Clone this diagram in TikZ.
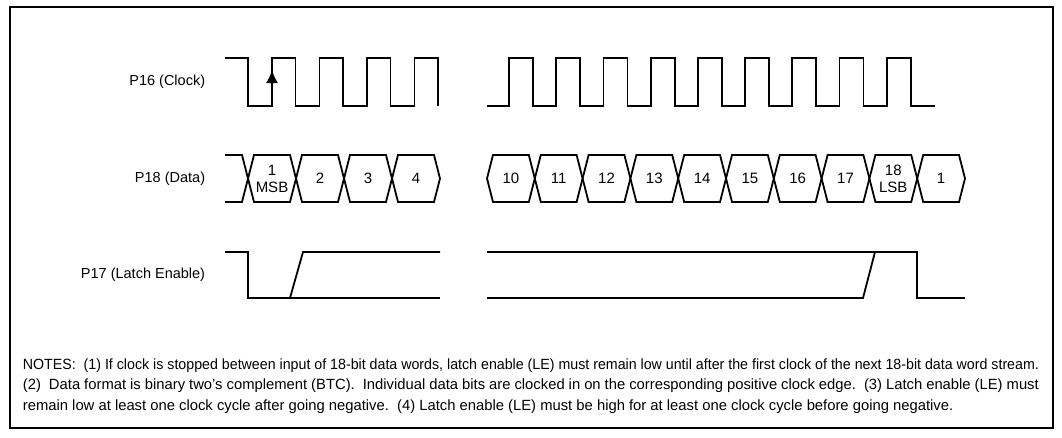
\documentclass[tikz,border=0pt]{standalone}
\usepackage{fontspec}
\setmainfont{Liberation Sans}
\usetikzlibrary{arrows.meta}

\begin{document}
\begin{tikzpicture}[x=1pt, y=-1pt, line width=1.8pt,
    lbl/.style={font=\fontsize{14.5}{17}\selectfont, anchor=east, inner sep=0pt},
    bit/.style={font=\fontsize{15}{17}\selectfont, align=center, inner sep=0pt},
    note/.style={font=\fontsize{14.8}{20}\selectfont, anchor=base west, inner sep=0pt}]

\useasboundingbox (0,0) rectangle (1062,437);

\def\hi{58} \def\lo{106} % clock levels
\def\dtop{155} \def\dbot{202} \def\dmid{178.5} % data levels
\def\lehi{252} \def\lelo{298} % latch enable levels
\def\cper{47.5} % clock period (left)
\def\rcper{47.2} % clock period (right)
\def\dper{48} % data width (left)
\def\rper{47.8} % data width (right)
\def\xw{6} % half width of a data crossing

% frame
\draw[line width=2pt] (10,7) rectangle (1053,428);

% signal names
\node[lbl] (clk) at (206,82) {P16 (Clock)};
\node[lbl] (dat) at (206,179) {P18 (Data)};
\node[lbl] (le) at (206,275) {P17 (Latch Enable)};

% clock, left part
\draw (225,\hi) \foreach \k in {0,...,3} {
    -- (248+\k*\cper,\hi) -- (248+\k*\cper,\lo)
    -- (272+\k*\cper,\lo) -- (272+\k*\cper,\hi)
} -- (438,\hi) -- (438,\lo);
\draw[-{Latex[length=13pt,width=12pt]}] (272,\lo) -- (272,70);

% clock, right part
\draw (487,\lo) \foreach \k in {0,...,8} {
    -- (509+\k*\rcper,\lo) -- (509+\k*\rcper,\hi)
    -- (533+\k*\rcper,\hi) -- (533+\k*\rcper,\lo)
} -- (935,\lo);

% data, left part
\draw (225,\dtop) -- (248-\xw,\dtop) -- (248,\dmid) -- (248-\xw,\dbot) -- (225,\dbot);
\foreach \i/\lab in {0/{1\\MSB}, 1/2, 2/3, 3/4} {
    \draw (248+\i*\dper,\dmid) -- (248+\xw+\i*\dper,\dtop)
        -- (248-\xw+\i*\dper+\dper,\dtop) -- (248+\i*\dper+\dper,\dmid)
        -- (248-\xw+\i*\dper+\dper,\dbot) -- (248+\xw+\i*\dper,\dbot) -- cycle;
    \node[bit] (dl\i) at (272+\i*\dper,\dmid) {\lab};
}

% data, right part
\foreach \i/\lab in {0/10, 1/11, 2/12, 3/13, 4/14, 5/15, 6/16, 7/17, 8/{18\\LSB}, 9/1} {
    \draw (487+\i*\rper,\dmid) -- (487+\xw+\i*\rper,\dtop)
        -- (487-\xw+\i*\rper+\rper,\dtop) -- (487+\i*\rper+\rper,\dmid)
        -- (487-\xw+\i*\rper+\rper,\dbot) -- (487+\xw+\i*\rper,\dbot) -- cycle;
    \node[bit] (dr\i) at (487+\i*\rper+0.5*\rper,\dmid) {\lab};
}

% latch enable
\draw (225,\lehi) -- (248,\lehi) -- (248,\lelo) -- (440,\lelo);
\draw (290,\lelo) -- (303,\lehi) -- (440,\lehi);
\draw (487,\lehi) -- (917,\lehi) -- (917,\lelo) -- (965,\lelo);
\draw (487,\lelo) -- (863,\lelo) -- (875,\lehi);

% notes
\node[note] (n1) at (22,369) {\resizebox{1016pt}{\height}{NOTES:\ \ (1) If clock is stopped between input of 18-bit data words, latch enable (LE) must remain low until after the first clock of the next 18-bit data word stream.}};
\node[note] (n2) at (22,389.5) {\makebox[1016pt][s]{(2)\ \ Data format is binary two's complement (BTC).\ \ Individual data bits are clocked in on the corresponding positive clock edge.\ \ (3) Latch enable (LE) must}};
\node[note] (n3) at (22,410) {remain low at least one clock cycle after going negative.\ \ (4) Latch enable (LE) must be high for at least one clock cycle before going negative.};

\end{tikzpicture}
\end{document}
